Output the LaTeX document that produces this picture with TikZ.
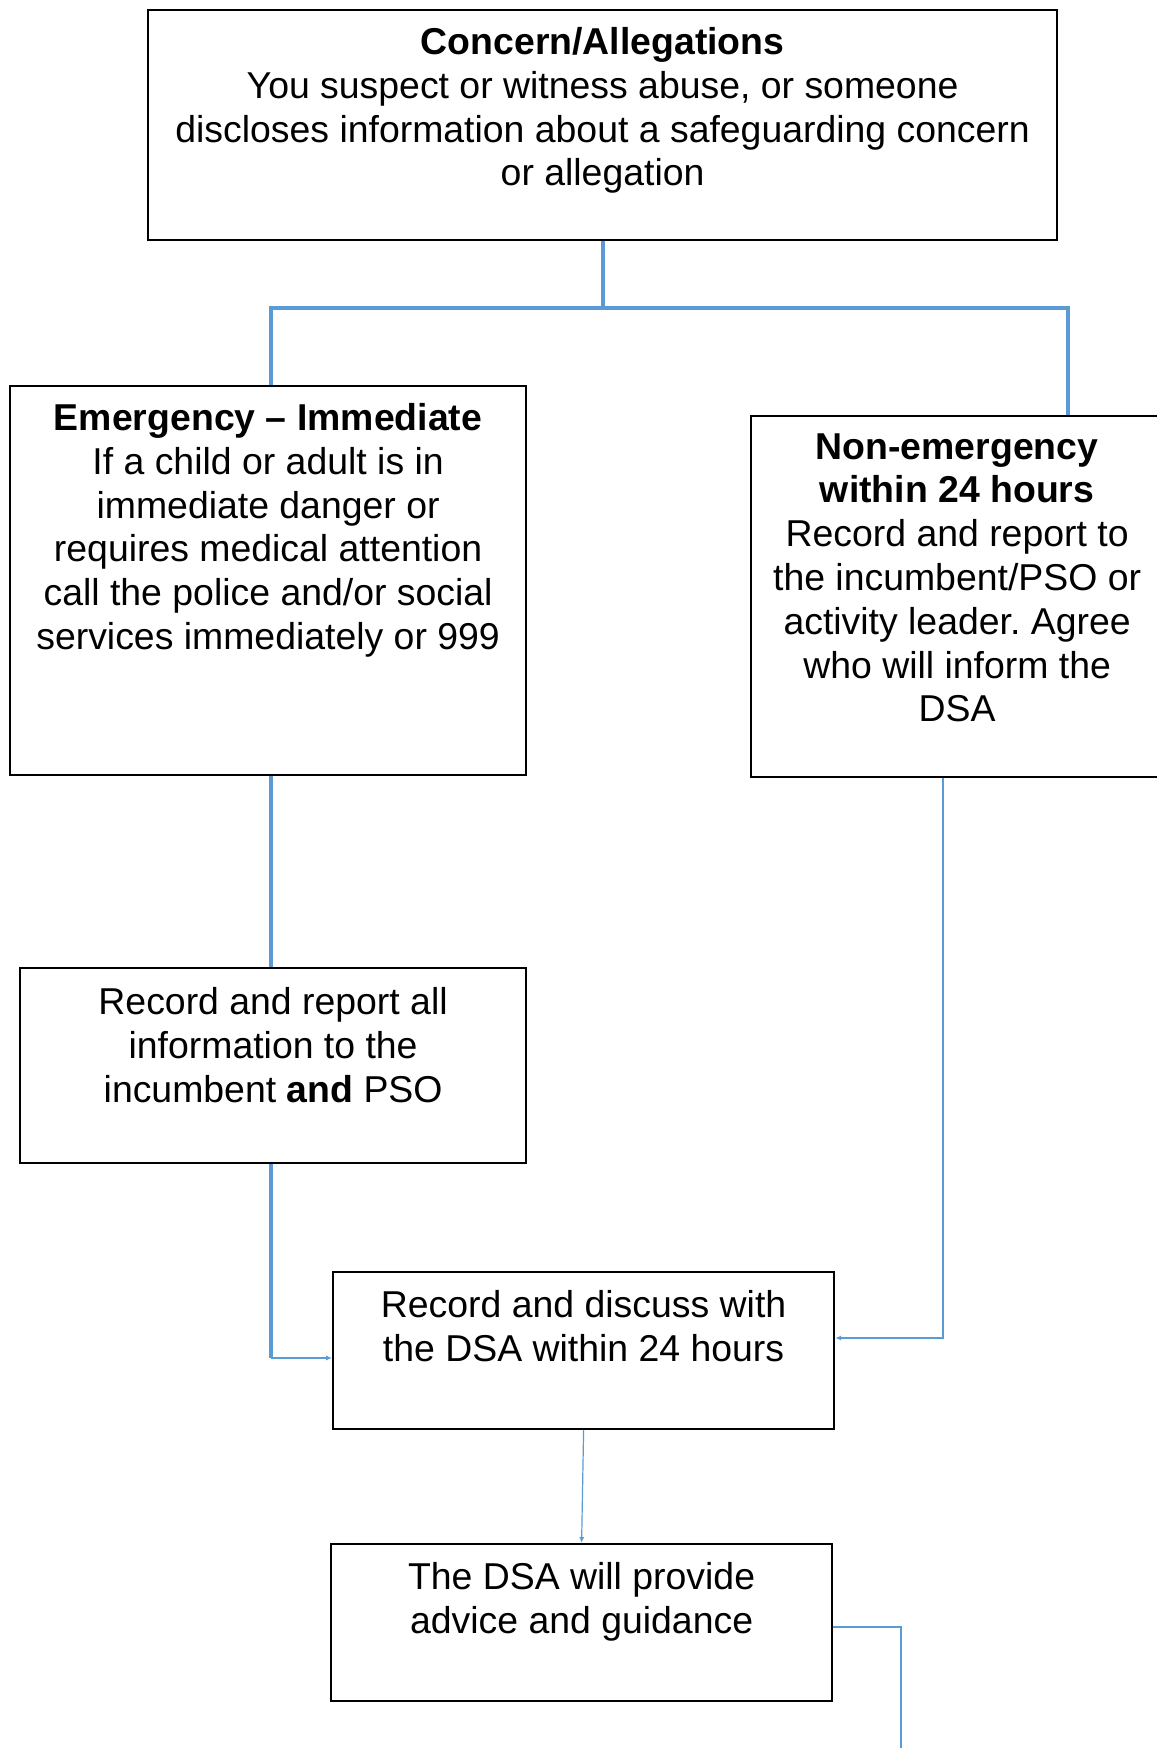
\documentclass[tikz,border=0pt]{standalone}
\usepackage{fontspec}
\setmainfont{Liberation Sans}
\frenchspacing
\usetikzlibrary{positioning,arrows.meta}
\definecolor{linkblue}{RGB}{91,155,213}

\begin{document}
\begin{tikzpicture}[x=0.5pt,y=-0.5pt,
        box/.style={draw=black, line width=1.1pt, anchor=north west, inner sep=0pt},
        txt/.style={align=center, inner sep=0pt, font=\fontsize{18.7}{21.9}\selectfont},
        link/.style={draw=linkblue, line width=2pt},
        thinlink/.style={draw=linkblue, line width=1pt},
        hairlink/.style={draw=linkblue, line width=0.6pt},
        tip/.style={-{Latex[length=3pt,width=2.6pt]}}]
                \useasboundingbox (0,0) rectangle (1156,1748);

                \node [box, minimum width=454.5pt, minimum height=115pt] (top) at (147,9) {};
                \node [txt, below=9pt of top.north] (toptxt) {\textbf{Concern/Allegations}\\You suspect or witness abuse, or someone\\discloses information about a safeguarding concern\\or allegation};

                \node [box, minimum width=258pt, minimum height=194.5pt] (emerg) at (9,385) {};
                \node [txt, below=9pt of emerg.north] (emergtxt) {\textbf{Emergency – Immediate}\\If a child or adult is in\\immediate danger or\\requires medical attention\\call the police and/or social\\services immediately or 999};

                \node [box, minimum width=206pt, minimum height=180.5pt] (nonemerg) at (750,415) {};
                \node [txt, below=9pt of nonemerg.north] (nonemergtxt) {\textbf{Non-emergency}\\\textbf{within 24 hours}\\Record and report to\\the incumbent/PSO or\\activity leader. Agree\\who will inform the\\DSA};

                \node [box, minimum width=253pt, minimum height=97.5pt] (record) at (19,967) {};
                \node [txt, below=10pt of record.north] (recordtxt) {Record and report all\\information to the\\incumbent \textbf{and} PSO};

                \node [box, minimum width=250.5pt, minimum height=78.5pt] (discuss) at (332,1271) {};
                \node [txt, below=9.5pt of discuss.north] (discusstxt) {Record and discuss with\\the DSA within 24 hours};

                \node [box, minimum width=250.5pt, minimum height=78.5pt] (advice) at (330,1543) {};
                \node [txt, below=9.5pt of advice.north] (advicetxt) {The DSA will provide\\advice and guidance};

                \coordinate (jl) at (271,308);
                \coordinate (jr) at (1068,308);
                \coordinate (jd) at (271,1358);
                \coordinate (je) at (943,1338);
                \coordinate (ao) at (901,1627);
                \coordinate (out) at (901,1760);
                \draw [link] (top.south) -- (top.south |- jr);
                \draw [link] (jl |- emerg.north) |- (jr) -- (jr |- nonemerg.north);
                \draw [link] (jl |- emerg.south) -- (jl |- record.north);
                \draw [link] (jl |- record.south) -- (jd);
                \draw [thinlink, tip] (jd) -- (jd -| discuss.west);
                \draw [thinlink, tip] (je |- nonemerg.south) -- (je) -- (je -| discuss.east);
                \draw [hairlink, tip] (discuss.south) -- (advice.north);
                \draw [thinlink] (ao -| advice.east) -- (ao) -- (out);
            \end{tikzpicture}
\end{document}
